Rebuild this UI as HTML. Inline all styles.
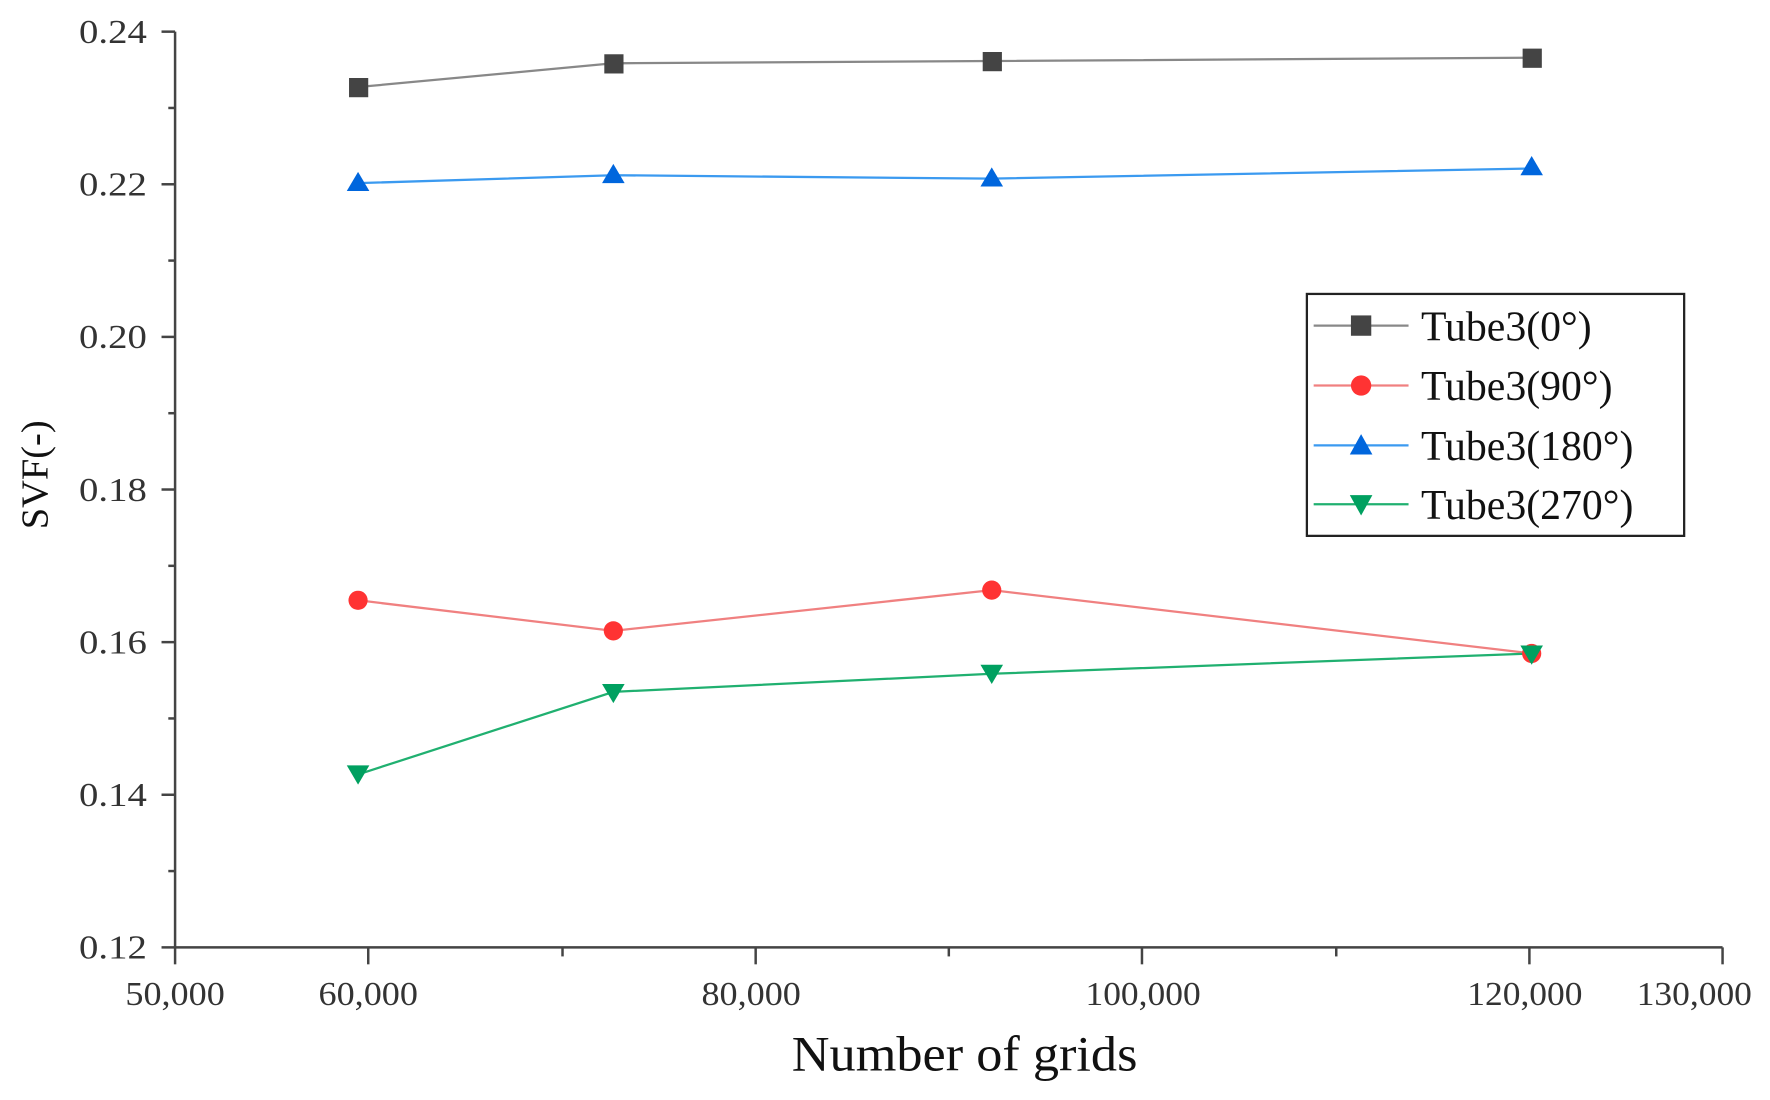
<!DOCTYPE html>
<html><head><style>html,body{margin:0;padding:0;background:#fff}svg{display:block}</style></head>
<body>
<svg width="1770" height="1100" viewBox="0 0 1567 973" preserveAspectRatio="none" xmlns="http://www.w3.org/2000/svg" font-family="Liberation Serif, serif">
<g stroke="#444" stroke-width="2.2" fill="none">
<line x1="155" y1="28" x2="155" y2="839"/>
<line x1="154" y1="838" x2="1525" y2="838"/>
<line x1="143" y1="28" x2="155" y2="28"/><line x1="143" y1="163" x2="155" y2="163"/><line x1="143" y1="298" x2="155" y2="298"/><line x1="143" y1="433" x2="155" y2="433"/><line x1="143" y1="568" x2="155" y2="568"/><line x1="143" y1="703" x2="155" y2="703"/><line x1="143" y1="838" x2="155" y2="838"/>
<line x1="149" y1="95.5" x2="155" y2="95.5"/><line x1="149" y1="230.5" x2="155" y2="230.5"/><line x1="149" y1="365.5" x2="155" y2="365.5"/><line x1="149" y1="500.5" x2="155" y2="500.5"/><line x1="149" y1="635.5" x2="155" y2="635.5"/><line x1="149" y1="770.5" x2="155" y2="770.5"/>
<line x1="155" y1="838" x2="155" y2="853"/><line x1="326" y1="838" x2="326" y2="853"/><line x1="669" y1="838" x2="669" y2="853"/><line x1="1011" y1="838" x2="1011" y2="853"/><line x1="1354" y1="838" x2="1354" y2="853"/><line x1="1525" y1="838" x2="1525" y2="853"/>
<line x1="498" y1="838" x2="498" y2="846"/><line x1="840" y1="838" x2="840" y2="846"/><line x1="1183" y1="838" x2="1183" y2="846"/>
</g>
<g font-size="30" fill="#333" text-anchor="end">
<text x="130" y="38" textLength="60" lengthAdjust="spacingAndGlyphs">0.24</text><text x="130" y="173" textLength="60" lengthAdjust="spacingAndGlyphs">0.22</text><text x="130" y="308" textLength="60" lengthAdjust="spacingAndGlyphs">0.20</text><text x="130" y="443" textLength="60" lengthAdjust="spacingAndGlyphs">0.18</text><text x="130" y="578" textLength="60" lengthAdjust="spacingAndGlyphs">0.16</text><text x="130" y="713" textLength="60" lengthAdjust="spacingAndGlyphs">0.14</text><text x="130" y="848" textLength="60" lengthAdjust="spacingAndGlyphs">0.12</text>
</g>
<g font-size="30" fill="#333" text-anchor="middle">
<text x="155" y="889" textLength="88" lengthAdjust="spacingAndGlyphs">50,000</text><text x="326" y="889" textLength="88" lengthAdjust="spacingAndGlyphs">60,000</text><text x="665" y="889" textLength="88" lengthAdjust="spacingAndGlyphs">80,000</text><text x="1012" y="889" textLength="102" lengthAdjust="spacingAndGlyphs">100,000</text><text x="1350" y="889" textLength="102" lengthAdjust="spacingAndGlyphs">120,000</text><text x="1500" y="889" textLength="102" lengthAdjust="spacingAndGlyphs">130,000</text>
</g>
<text x="854" y="947" font-size="44" text-anchor="middle" fill="#111" textLength="306" lengthAdjust="spacingAndGlyphs">Number of grids</text>
<text transform="translate(42,420) rotate(-90)" font-size="34" text-anchor="middle" fill="#111">SVF(-)</text>
<polyline points="317,77 543,56 878,54 1356,51" fill="none" stroke="#888" stroke-width="2"/>
<polyline points="317,162 543,155 878,158 1356,149" fill="none" stroke="#3b9af0" stroke-width="2"/>
<polyline points="317,531 543,558 878,522 1356,578" fill="none" stroke="#f08080" stroke-width="2"/>
<polyline points="317,685 543,612 878,596 1356,578" fill="none" stroke="#20b070" stroke-width="2"/>
<g fill="#444"><rect x="309" y="69" width="17" height="17"/><rect x="535" y="48" width="17" height="17"/><rect x="870" y="46" width="17" height="17"/><rect x="1348" y="43" width="17" height="17"/></g>
<g fill="#0066dd"><polygon points="317,152 307,169 327,169"/><polygon points="543,145 533,162 553,162"/><polygon points="878,148 868,165 888,165"/><polygon points="1356,138 1346,155 1366,155"/></g>
<g fill="#ff3333"><circle cx="317" cy="531" r="8.5"/><circle cx="543" cy="558" r="8.5"/><circle cx="878" cy="522" r="8.5"/><circle cx="1356" cy="578" r="8.5"/></g>
<g fill="#00a060"><polygon points="307,677 327,677 317,694"/><polygon points="533,605 553,605 543,622"/><polygon points="868,588 888,588 878,605"/><polygon points="1346,571 1366,571 1356,588"/></g>
<rect x="1157" y="260" width="334" height="214" fill="#fff" stroke="#222" stroke-width="2"/>
<line x1="1163" y1="288" x2="1247" y2="288" stroke="#888" stroke-width="2"/><rect x="1196" y="279" width="18" height="18" fill="#444"/>
<line x1="1163" y1="341" x2="1247" y2="341" stroke="#f08080" stroke-width="2"/><circle cx="1205" cy="341" r="9" fill="#ff3333"/>
<line x1="1163" y1="394" x2="1247" y2="394" stroke="#3b9af0" stroke-width="2"/><polygon points="1205,384 1195,402 1215,402" fill="#0066dd"/>
<line x1="1163" y1="446" x2="1247" y2="446" stroke="#20b070" stroke-width="2"/><polygon points="1195,438 1215,438 1205,456" fill="#00a060"/>
<g font-size="37" fill="#111">
<text x="1258" y="301">Tube3(0°)</text><text x="1258" y="354">Tube3(90°)</text><text x="1258" y="407">Tube3(180°)</text><text x="1258" y="459">Tube3(270°)</text>
</g>
</svg>
</body></html>
